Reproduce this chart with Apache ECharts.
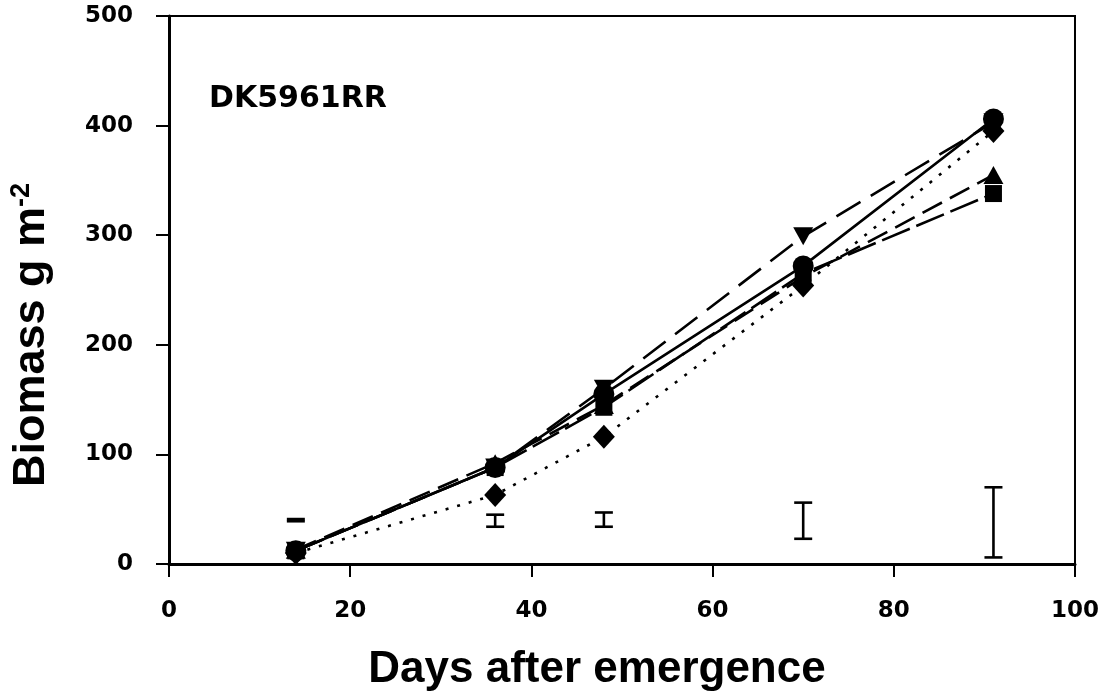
<!DOCTYPE html>
<html>
<head>
<meta charset="utf-8">
<script src="https://cdn.jsdelivr.net/npm/echarts@6/dist/echarts.min.js"></script>
<style>
  html, body { margin: 0; padding: 0; background: #fff; }
  #main { width: 1102px; height: 698px; }
</style>
</head>
<body>
<div id="main"></div>
<script>
// days after emergence
const days = [14, 36, 48, 70, 91];
// biomass per treatment (g m-2)
const circleVals = [12, 88, 155, 272, 406];
const diamondVals = [10, 63, 116, 254, 395];
const triUpVals = [13, 92, 145, 262, 355];
const squareVals = [12, 88, 143, 265, 338];
const triDownVals = [12, 88, 160, 299, 403];
// LSD bars: [day, low, high]
const lsdBars = [
  [14, 39, 41],
  [36, 34, 45],
  [48, 34, 47],
  [70, 23, 56],
  [91, 6, 70]
];
const xTicks = [0, 20, 40, 60, 80, 100];
const yTicks = [0, 100, 200, 300, 400, 500];
const cultivar = 'DK5961RR';

const pair = (vals) => days.map((d, i) => [d, vals[i]]);

const myChart = echarts.init(document.getElementById('main'));

const lineSeries = (name, vals, symbol, size, dash, z) => ({
  name: name,
  type: 'line',
  data: pair(vals),
  symbol: symbol,
  symbolSize: size,
  z: z,
  itemStyle: { color: '#000' },
  lineStyle: { color: '#000', width: 2.6, type: dash },
  animation: false
});

const option = {
  backgroundColor: '#fff',
  animation: false,
  grid: {
    left: 165,
    right: 25,
    top: 16,
    bottom: 134,
    show: true,
    borderColor: '#000',
    borderWidth: 2
  },
  xAxis: {
    type: 'value',
    min: 0,
    max: 100,
    interval: 20,
    name: 'Days after emergence',
    nameLocation: 'middle',
    nameGap: 84,
    nameTextStyle: {
      fontFamily: 'Liberation Sans',
      fontWeight: 'bold',
      fontSize: 44,
      color: '#000',
      padding: [0, 50, 0, 0]
    },
    axisLine: { lineStyle: { color: '#000', width: 3 } },
    axisTick: { inside: false, length: 13, lineStyle: { color: '#000', width: 2 } },
    axisLabel: {
      margin: 36,
      fontFamily: 'DejaVu Sans',
      fontWeight: 'bold',
      fontSize: 23,
      color: '#000',
      formatter: (v) => xTicks.includes(v) ? String(v) : ''
    },
    splitLine: { show: false }
  },
  yAxis: {
    type: 'value',
    min: 0,
    max: 500,
    interval: 100,
    name: 'Biomass g m{sup|-2}',
    nameLocation: 'middle',
    nameGap: 114,
    nameRotate: 90,
    nameTextStyle: {
      fontFamily: 'Liberation Sans',
      fontWeight: 'bold',
      fontSize: 45,
      color: '#000',
      padding: [0, 90, 0, 0],
      rich: {
        sup: {
          fontFamily: 'Liberation Sans',
          fontWeight: 'bold',
          fontSize: 27,
          color: '#000',
          verticalAlign: 'top',
          padding: [0, 0, 20, 0]
        }
      }
    },
    axisLine: { lineStyle: { color: '#000', width: 3 } },
    axisTick: { inside: false, length: 13, lineStyle: { color: '#000', width: 2 } },
    axisLabel: {
      margin: 36,
      fontFamily: 'DejaVu Sans',
      fontWeight: 'bold',
      fontSize: 23,
      color: '#000',
      formatter: (v) => yTicks.includes(v) ? String(v) : ''
    },
    splitLine: { show: false }
  },
  graphic: [
    {
      type: 'text',
      left: 209,
      top: 84,
      style: {
        text: cultivar,
        fontFamily: 'DejaVu Sans',
        fontWeight: 'bold',
        fontSize: 30,
        fill: '#000'
      }
    }
  ],
  series: [
    lineSeries('triDown', triDownVals, 'path://M0,0 L10,0 L5,9 Z', [20, 18], [28, 12], 2),
    lineSeries('square', squareVals, 'rect', 17, [30, 7], 3),
    lineSeries('triUp', triUpVals, 'triangle', [20, 18], [22, 9], 4),
    lineSeries('diamond', diamondVals, 'diamond', [22, 24], [3, 9], 5),
    lineSeries('circle', circleVals, 'circle', 21, 'solid', 6),
    {
      name: 'LSD',
      type: 'custom',
      data: lsdBars,
      encode: { x: 0, y: [1, 2] },
      z: 7,
      renderItem: (params, api) => {
        const lo = api.coord([api.value(0), api.value(1)]);
        const hi = api.coord([api.value(0), api.value(2)]);
        const hw = 9;
        const st = { stroke: '#000', lineWidth: 2.6 };
        return {
          type: 'group',
          children: [
            { type: 'line', shape: { x1: lo[0], y1: lo[1], x2: hi[0], y2: hi[1] }, style: st },
            { type: 'line', shape: { x1: lo[0] - hw, y1: lo[1], x2: lo[0] + hw, y2: lo[1] }, style: st },
            { type: 'line', shape: { x1: hi[0] - hw, y1: hi[1], x2: hi[0] + hw, y2: hi[1] }, style: st }
          ]
        };
      }
    }
  ]
};

myChart.setOption(option);
</script>
</body>
</html>
